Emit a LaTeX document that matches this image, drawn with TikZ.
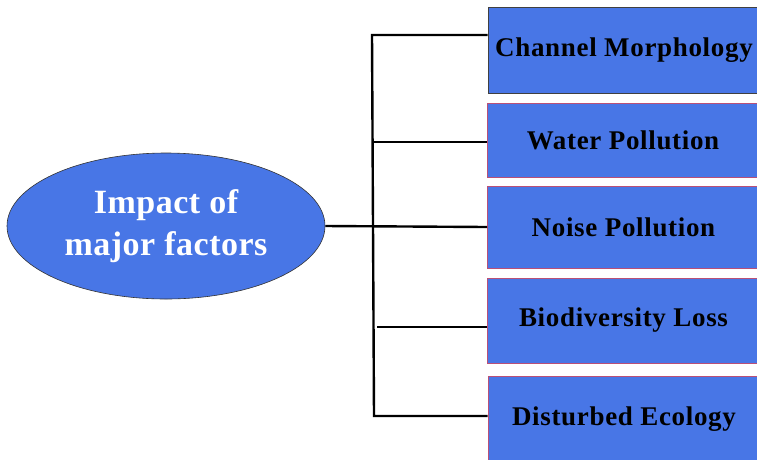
\documentclass[tikz,border=0pt]{standalone}
\usepackage{fontspec}
\setmainfont{Liberation Serif}
\usetikzlibrary{shapes.geometric}
\definecolor{boxblue}{RGB}{72,118,230}
\definecolor{rimpink}{RGB}{185,80,120}

\begin{document}
\begin{tikzpicture}[x=1pt,y=-1pt,
  factor/.style={draw=rimpink,fill=boxblue,line width=0.8pt,minimum width=272pt,inner sep=0pt,
    font=\bfseries\fontsize{27}{32}\selectfont\addfontfeature{LetterSpace=2.5}},
  link/.style={draw=black,line width=2.4pt}]
\useasboundingbox (0,0) rectangle (757,459);
\node[ellipse,draw=black!80,fill=boxblue,line width=0.6pt,minimum width=318pt,minimum height=146pt,
  inner sep=0pt,text=white,align=center,
  font=\bfseries\fontsize{34}{42}\selectfont\addfontfeature{LetterSpace=1.5}] (impact) at (166,226) {Impact of\\major factors};
\node[factor,draw=black!75,minimum height=86pt] (morph) at (624,50) {Channel Morphology};
\node[factor,minimum height=74pt] (water) at (623,140) {Water Pollution};
\node[factor,minimum height=82pt] (noise) at (623.5,227) {Noise Pollution};
\node[factor,minimum height=85pt] (bio) at (623.5,320.5) {Biodiversity Loss};
\node[factor,minimum height=86pt] (eco) at (624,419) {Disturbed Ecology};
% trunk and branches
\coordinate (top) at (372,35);
\coordinate (bottom) at (374,416);
\coordinate (j2) at (373,142);
\coordinate (j4) at (377,327);
\draw[link] (morph.west |- top) -- (top) -- (bottom) -- (eco.west |- bottom);
\draw[link] (j2) -- (water.west |- j2);
\draw[link] (j4) -- (bio.west |- j4);
\draw[link] (impact.east) -- (noise.west);
\end{tikzpicture}
\end{document}
